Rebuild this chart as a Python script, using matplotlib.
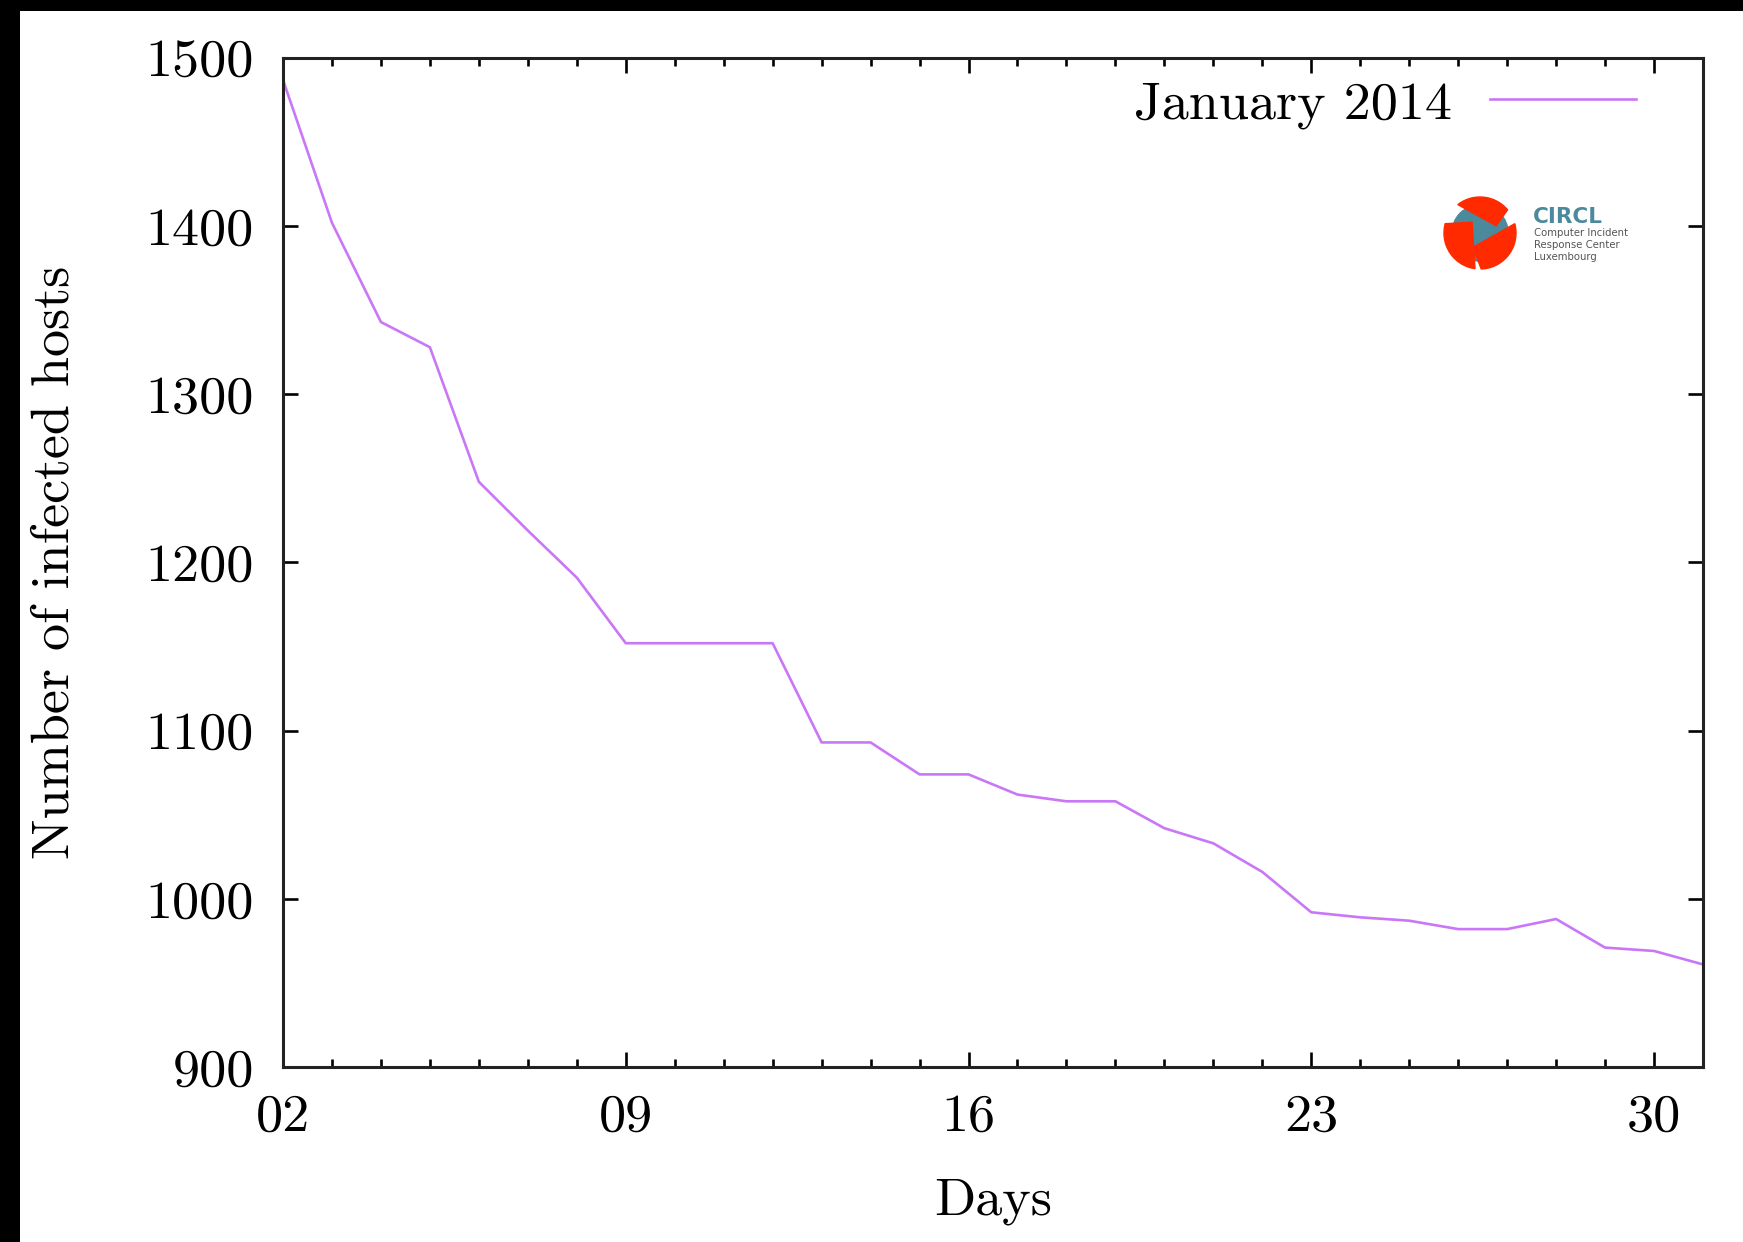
import matplotlib
matplotlib.use("Agg")
import matplotlib.pyplot as plt
from matplotlib.patches import Rectangle, Polygon, Circle
from matplotlib.ticker import MultipleLocator, FixedLocator, FuncFormatter
import numpy as np

plt.rcParams["font.family"] = "cmr10"
plt.rcParams["axes.formatter.use_mathtext"] = True

# infected hosts per day, January 2014
days = list(range(2, 32))
hosts = [1487, 1402, 1343, 1328, 1248, 1219, 1191, 1152, 1152, 1152,
         1152, 1093, 1093, 1074, 1074, 1062, 1058, 1058, 1042, 1033,
         1016, 992, 989, 987, 982, 982, 988, 971, 969, 961]
major_days = [2, 9, 16, 23, 30]
y_ticks = [900, 1000, 1100, 1200, 1300, 1400, 1500]

W, H = 1743, 1242
fig = plt.figure(figsize=(W / 100, H / 100), dpi=100, facecolor="black")

# white "photo" area on the black background
bg = Rectangle((20 / W, 0), 1 - 20 / W, 1 - 11 / H,
               transform=fig.transFigure, facecolor="white",
               edgecolor="none", zorder=-10)
fig.patches.append(bg)

ax = fig.add_axes([283 / W, 1 - 1067 / H, (1703 - 283) / W, (1067 - 58) / H])
ax.plot(days, hosts, color="#c977f7", lw=1.9, label="January 2014")

ax.set_xlim(2, 31)
ax.set_ylim(900, 1500)
ax.xaxis.set_major_locator(FixedLocator(major_days))
ax.xaxis.set_minor_locator(MultipleLocator(1))
ax.xaxis.set_major_formatter(FuncFormatter(lambda v, p: "%02d" % v))
ax.yaxis.set_major_locator(FixedLocator(y_ticks))
ax.yaxis.set_major_formatter(FuncFormatter(lambda v, p: "%d" % v))

ax.tick_params(which="both", direction="in", top=True, right=True,
               width=1.9, labelsize=39)
ax.tick_params(which="major", length=11)
ax.tick_params(which="minor", length=6)
ax.tick_params(axis="x", pad=19)
ax.tick_params(axis="y", pad=21)
for s in ax.spines.values():
    s.set_linewidth(2.2)
    s.set_color("#222222")

ax.set_xlabel("Days", fontsize=39, labelpad=27)
ax.set_ylabel("Number of infected hosts", fontsize=39, labelpad=48)

ax.legend(loc="upper right", bbox_to_anchor=(1 - 67 / 1420, 0.978),
          frameon=False, markerfirst=False, fontsize=39, borderpad=0,
          borderaxespad=0, handlelength=2.7, handletextpad=0.7)

# CIRCL logo
lx, ly, lw_, lh = 1435, 275, 215, 90
lax = fig.add_axes([lx / W, 1 - ly / H, lw_ / W, lh / H])
lax.set_xlim(0, lw_)
lax.set_ylim(0, lh)
lax.set_aspect("equal")
lax.axis("off")
cx, cy, R = 45, 42, 36
red = "#ff2a00"
teal = "#4b8a9c"
lax.add_patch(Circle((cx, cy), R * 0.78, color=teal))


def piece(a0, a1, inner):
    t = np.radians(np.linspace(a0, a1, 40))
    pts = list(zip(cx + R * np.cos(t), cy + R * np.sin(t)))
    pts.append((cx + R * inner[0], cy + R * inner[1]))
    return Polygon(pts, closed=True, color=red)


lax.add_patch(piece(40, 128, (0.45, 0.2)))
lax.add_patch(piece(165, 262, (-0.22, 0.3)))
lax.add_patch(piece(-88, 15, (-0.2, -0.4)))

lax.text(98, 58, "CIRCL", family="DejaVu Sans", weight="bold", fontsize=15.5,
         color=teal, va="center", ha="left")
for i, line in enumerate(["Computer Incident", "Response Center", "Luxembourg"]):
    lax.text(99, 42 - 12 * i, line, family="DejaVu Sans", fontsize=7.3,
             color="#555555", va="center", ha="left")

fig.savefig("out.png", dpi=100, facecolor=fig.get_facecolor())
